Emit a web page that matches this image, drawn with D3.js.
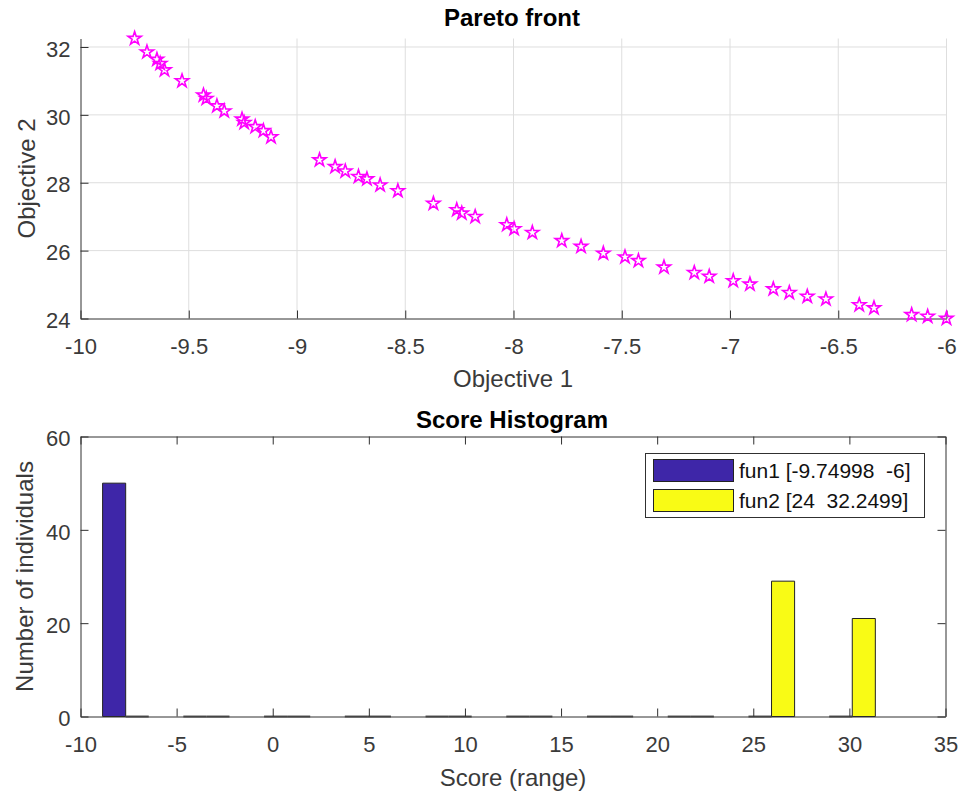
<!DOCTYPE html>
<html><head><meta charset="utf-8">
<script src="https://cdn.jsdelivr.net/npm/d3@7"></script>
<style>
body{margin:0;background:#fff}
svg text{font-family:"Liberation Sans",Arial,Helvetica,sans-serif}
</style></head><body>
<svg id="c" width="963" height="793"></svg>
<script>
// ---- data ----
const objective1 = [-9.750,-9.693,-9.647,-9.632,-9.612,-9.531,-9.432,-9.419,-9.370,-9.336,
  -9.254,-9.244,-9.193,-9.155,-9.120,-8.896,-8.824,-8.777,-8.716,-8.677,
  -8.616,-8.534,-8.370,-8.262,-8.239,-8.177,-8.031,-7.997,-7.913,-7.777,
  -7.688,-7.585,-7.485,-7.423,-7.305,-7.165,-7.096,-6.985,-6.908,-6.800,
  -6.726,-6.643,-6.557,-6.403,-6.335,-6.161,-6.087,-6.000];
const objective2 = [32.25,31.85,31.63,31.51,31.32,31.00,30.58,30.48,30.26,30.11,
  29.87,29.77,29.65,29.53,29.35,28.67,28.47,28.34,28.18,28.11,
  27.93,27.76,27.39,27.20,27.10,27.00,26.76,26.64,26.53,26.29,
  26.12,25.92,25.81,25.70,25.51,25.35,25.24,25.11,25.01,24.87,
  24.76,24.65,24.57,24.40,24.31,24.11,24.06,24.00];
const topXTicks = [-10,-9.5,-9,-8.5,-8,-7.5,-7,-6.5,-6];
const topXTickLabels = ["-10","-9.5","-9","-8.5","-8","-7.5","-7","-6.5","-6"];
const topYTicks = [24,26,28,30,32];
const binCenters = [-7.65,-3.45,0.75,4.95,9.15,13.35,17.55,21.75,25.95,30.15];
const fun1Counts = [50,0,0,0,0,0,0,0,0,0];
const fun2Counts = [0,0,0,0,0,0,0,0,29,21];
const seriesNames = ["fun1 [-9.74998  -6]","fun2 [24  32.2499]"];
const bottomXTicks = [-10,-5,0,5,10,15,20,25,30,35];
const bottomXTickLabels = ["-10","-5","0","5","10","15","20","25","30","35"];
const bottomYTicks = [0,20,40,60];

(function(){
// ---- styling ----
const AX = "#303030", GRID = "#dedede", MAG = "#ff00ff";
const COLORS = ["#3e26a8","#f9fb15"];
const TICK_FS = 22, LABEL_FS = 24, TITLE_FS = 24;

const svg = d3.select("#c");
svg.append("rect").attr("width",963).attr("height",793).attr("fill","#fff");

function styleAxis(g, fs){
  g.select(".domain").attr("stroke",AX).attr("stroke-width",1);
  g.selectAll(".tick line").attr("stroke",AX).attr("stroke-width",1);
  g.selectAll(".tick text").attr("fill","#3a3a3a").attr("font-size",fs)
    .attr("font-family","Liberation Sans, Arial, sans-serif");
}

// ===== Top: Pareto front =====
const x1 = d3.scaleLinear([-10,-6],[80.5,946.5]);
const y1 = d3.scaleLinear([24,32.25],[318.5,38.5]);
const topG = svg.append("g");
topG.append("g").selectAll("line").data(topXTicks.slice(1)).join("line")
  .attr("x1",d=>x1(d)).attr("x2",d=>x1(d)).attr("y1",y1(32.25)).attr("y2",y1(24))
  .attr("stroke",GRID).attr("stroke-width",1);
topG.append("g").selectAll("line").data(topYTicks.slice(1)).join("line")
  .attr("x1",x1(-10)).attr("x2",x1(-6)).attr("y1",d=>y1(d)).attr("y2",d=>y1(d))
  .attr("stroke",GRID).attr("stroke-width",1);
const gx1 = topG.append("g").attr("transform",`translate(0,${y1(24)})`)
  .call(d3.axisBottom(x1).tickValues(topXTicks).tickFormat((d,i)=>topXTickLabels[i])
    .tickSizeInner(-8).tickSizeOuter(0).tickPadding(20));
styleAxis(gx1,TICK_FS);
const gy1 = topG.append("g").attr("transform",`translate(${x1(-10)},0)`)
  .call(d3.axisLeft(y1).tickValues(topYTicks).tickFormat(d3.format("d"))
    .tickSizeInner(-8).tickSizeOuter(0).tickPadding(10));
styleAxis(gy1,TICK_FS);
gy1.selectAll(".tick text").attr("dy","0.42em");
const star = d3.symbol().type(d3.symbolStar).size(54);
topG.append("g").selectAll("path").data(objective1).join("path")
  .attr("transform",(d,i)=>`translate(${x1(d)},${y1(objective2[i])})`)
  .attr("d",star).attr("fill","none").attr("stroke",MAG).attr("stroke-width",1.6);
topG.append("text").attr("x",512).attr("y",26).attr("text-anchor","middle")
  .attr("font-size",TITLE_FS).attr("font-weight","bold").attr("fill","#000").text("Pareto front");
topG.append("text").attr("x",513).attr("y",387).attr("text-anchor","middle")
  .attr("font-size",LABEL_FS).attr("fill","#3a3a3a").text("Objective 1");
topG.append("text").attr("transform",`translate(35,${(y1(24)+y1(32.25))/2}) rotate(-90)`)
  .attr("text-anchor","middle").attr("font-size",LABEL_FS).attr("fill","#3a3a3a").text("Objective 2");

// ===== Bottom: Score Histogram =====
const x2 = d3.scaleLinear([-10,35],[80.5,945.5]);
const y2 = d3.scaleLinear([0,60],[716.5,436.5]);
const bot = svg.append("g");
const barW = 1.2;
const bars = [];
binCenters.forEach((c,i)=>{
  bars.push({x0:c-barW,x1:c,v:fun1Counts[i],s:0});
  bars.push({x0:c,x1:c+barW,v:fun2Counts[i],s:1});
});
bot.append("g").selectAll("path").data(bars).join("path")
  .attr("d",d=>{
    const p = d3.path();
    p.moveTo(x2(d.x0),y2(0)); p.lineTo(x2(d.x0),y2(d.v)); p.lineTo(x2(d.x1),y2(d.v));
    p.lineTo(x2(d.x1),y2(0)); p.closePath(); return p.toString();
  })
  .attr("fill",d=>COLORS[d.s]).attr("stroke",d=>d.v===0?"#5a5a5a":"#222").attr("stroke-width",d=>d.v===0?2:1);
const gx2 = bot.append("g").attr("transform",`translate(0,${y2(0)})`)
  .call(d3.axisBottom(x2).tickValues(bottomXTicks).tickFormat((d,i)=>bottomXTickLabels[i])
    .tickSizeInner(-8).tickSizeOuter(0).tickPadding(20));
styleAxis(gx2,TICK_FS);
const gx2t = bot.append("g").attr("transform",`translate(0,${y2(60)})`)
  .call(d3.axisTop(x2).tickValues(bottomXTicks).tickFormat("").tickSizeInner(-8).tickSizeOuter(0));
styleAxis(gx2t,TICK_FS);
const gy2 = bot.append("g").attr("transform",`translate(${x2(-10)},0)`)
  .call(d3.axisLeft(y2).tickValues(bottomYTicks).tickFormat(d3.format("d"))
    .tickSizeInner(-8).tickSizeOuter(0).tickPadding(10));
styleAxis(gy2,TICK_FS);
gy2.selectAll(".tick text").attr("dy","0.42em");
const gy2r = bot.append("g").attr("transform",`translate(${x2(35)},0)`)
  .call(d3.axisRight(y2).tickValues(bottomYTicks).tickFormat("").tickSizeInner(-8).tickSizeOuter(0));
styleAxis(gy2r,TICK_FS);
const lg = bot.append("g");
lg.append("rect").attr("x",645.5).attr("y",453.5).attr("width",279).attr("height",64)
  .attr("fill","#fff").attr("stroke",AX).attr("stroke-width",1);
seriesNames.forEach((name,i)=>{
  const yy = 459.5 + i*30;
  lg.append("rect").attr("x",653.5).attr("y",yy).attr("width",80).attr("height",22)
    .attr("fill",COLORS[i]).attr("stroke","#222").attr("stroke-width",1);
  lg.append("text").attr("x",739).attr("y",yy+11).attr("dy","0.36em")
    .attr("font-size",21).attr("fill","#111").style("white-space","pre").text(name);
});
bot.append("text").attr("x",512).attr("y",428).attr("text-anchor","middle")
  .attr("font-size",TITLE_FS).attr("font-weight","bold").attr("fill","#000").text("Score Histogram");
bot.append("text").attr("x",513).attr("y",786).attr("text-anchor","middle")
  .attr("font-size",LABEL_FS).attr("fill","#3a3a3a").text("Score (range)");
bot.append("text").attr("transform",`translate(33,${(y2(0)+y2(60))/2}) rotate(-90)`)
  .attr("text-anchor","middle").attr("font-size",LABEL_FS).attr("fill","#3a3a3a").text("Number of individuals");
})();
</script>
</body></html>
